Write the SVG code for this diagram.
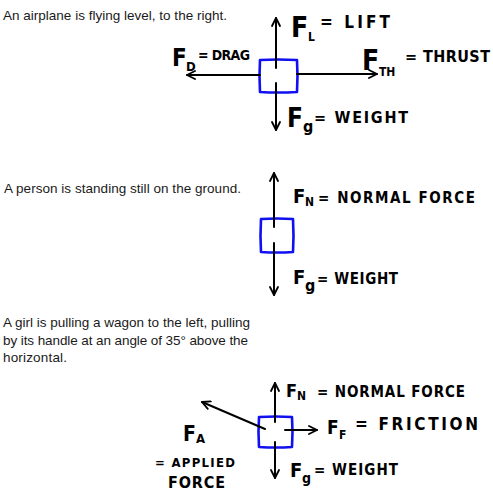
<svg xmlns="http://www.w3.org/2000/svg" width="493" height="500" viewBox="0 0 493 500">
<style>
.t{font-family:"Liberation Sans",Arial,sans-serif;font-size:13.5px;fill:#1a1a1a}
.h{font-family:"DejaVu Sans Condensed","DejaVu Sans",sans-serif;font-weight:bold;fill:#000}
.box{fill:none;stroke:#1010f0;stroke-width:2.6;stroke-linejoin:round}
.arr{fill:none;stroke:#000;stroke-width:2;stroke-linecap:round;marker-end:url(#ah)}
</style>
<defs>
<marker id="ah" viewBox="0 0 10 10" refX="9" refY="5" markerWidth="5" markerHeight="5" orient="auto" markerUnits="strokeWidth">
<polyline points="1,1 9,5 1,9" fill="none" stroke="#000" stroke-width="1.8" stroke-linecap="round" stroke-linejoin="round"/>
</marker>
</defs>
<rect width="493" height="500" fill="#fff"/>

<g id="airplane">
<text class="t" x="3" y="20" textLength="224">An airplane is flying level, to the right.</text>
<path class="box" d="M260,60 Q278,59 297,60 Q298,76 297,92 Q278,93 260,92 Q259,76 260,60 Z"/>
<text class="h" x="291" y="37" font-size="28">F</text>
<text class="h" x="308" y="41" font-size="12">L</text>
<text class="h" x="320" y="28" font-size="17" textLength="70">= LIFT</text>
<text class="h" x="172" y="66" font-size="24">F</text>
<text class="h" x="186" y="71" font-size="13">D</text>
<text class="h" x="198" y="60" font-size="14" textLength="52">= DRAG</text>
<text class="h" x="362" y="70" font-size="28">F</text>
<text class="h" x="379" y="76" font-size="12">TH</text>
<text class="h" x="405" y="62" font-size="16" textLength="85">= THRUST</text>
<text class="h" x="287" y="127" font-size="26">F</text>
<text class="h" x="303" y="132" font-size="16">g</text>
<text class="h" x="314" y="123" font-size="16" textLength="94">= WEIGHT</text>
</g>

<g id="person">
<text class="t" x="4" y="193" textLength="237">A person is standing still on the ground.</text>
<path class="box" d="M261,219 Q277,218 293,219 Q294,236 293,252 Q277,253 261,252 Q260,236 261,219 Z"/>
<text class="h" x="293" y="203" font-size="20">F</text>
<text class="h" x="305" y="206" font-size="12">N</text>
<text class="h" x="318" y="203" font-size="15" textLength="157">= NORMAL FORCE</text>
<text class="h" x="293" y="284" font-size="20">F</text>
<text class="h" x="305" y="291" font-size="16">g</text>
<text class="h" x="317" y="284" font-size="15" textLength="81">= WEIGHT</text>
</g>

<g id="wagon">
<text class="t" x="3" y="327" textLength="247">A girl is pulling a wagon to the left, pulling</text>
<text class="t" x="3" y="345" textLength="245">by its handle at an angle of 35° above the</text>
<text class="t" x="3" y="362" textLength="64">horizontal.</text>
<path class="box" d="M259,417 Q276,416 292,417 Q293,432 292,447 Q276,448 259,447 Q258,432 259,417 Z"/>
<text class="h" x="286" y="397" font-size="18">F</text>
<text class="h" x="297" y="400" font-size="12">N</text>
<text class="h" x="317" y="397" font-size="15" textLength="148">= NORMAL FORCE</text>
<text class="h" x="327" y="434" font-size="19">F</text>
<text class="h" x="339" y="439" font-size="12">F</text>
<text class="h" x="355" y="430" font-size="17" textLength="123">= FRICTION</text>
<text class="h" x="290" y="477" font-size="20">F</text>
<text class="h" x="302" y="483" font-size="14">g</text>
<text class="h" x="314" y="475" font-size="15" textLength="84">= WEIGHT</text>
<text class="h" x="183" y="441" font-size="21">F</text>
<text class="h" x="196" y="443" font-size="13">A</text>
<text class="h" x="155" y="467" font-size="13" textLength="80">= APPLIED</text>
<text class="h" x="168" y="488" font-size="16" textLength="57">FORCE</text>
</g>

<g id="connectors">
<line class="arr" x1="276" y1="68" x2="276" y2="18"/>
<line class="arr" x1="276" y1="83" x2="276" y2="130"/>
<line class="arr" x1="260" y1="75" x2="187" y2="75"/>
<line class="arr" x1="297" y1="74" x2="377" y2="74"/>
<line class="arr" x1="274" y1="227" x2="274" y2="173"/>
<line class="arr" x1="274" y1="243" x2="274" y2="295"/>
<line class="arr" x1="275" y1="422" x2="275" y2="383"/>
<line class="arr" x1="275" y1="442" x2="275" y2="478"/>
<line class="arr" x1="285" y1="430" x2="317" y2="430"/>
<line class="arr" x1="265" y1="429" x2="202" y2="402"/>
</g>
</svg>
